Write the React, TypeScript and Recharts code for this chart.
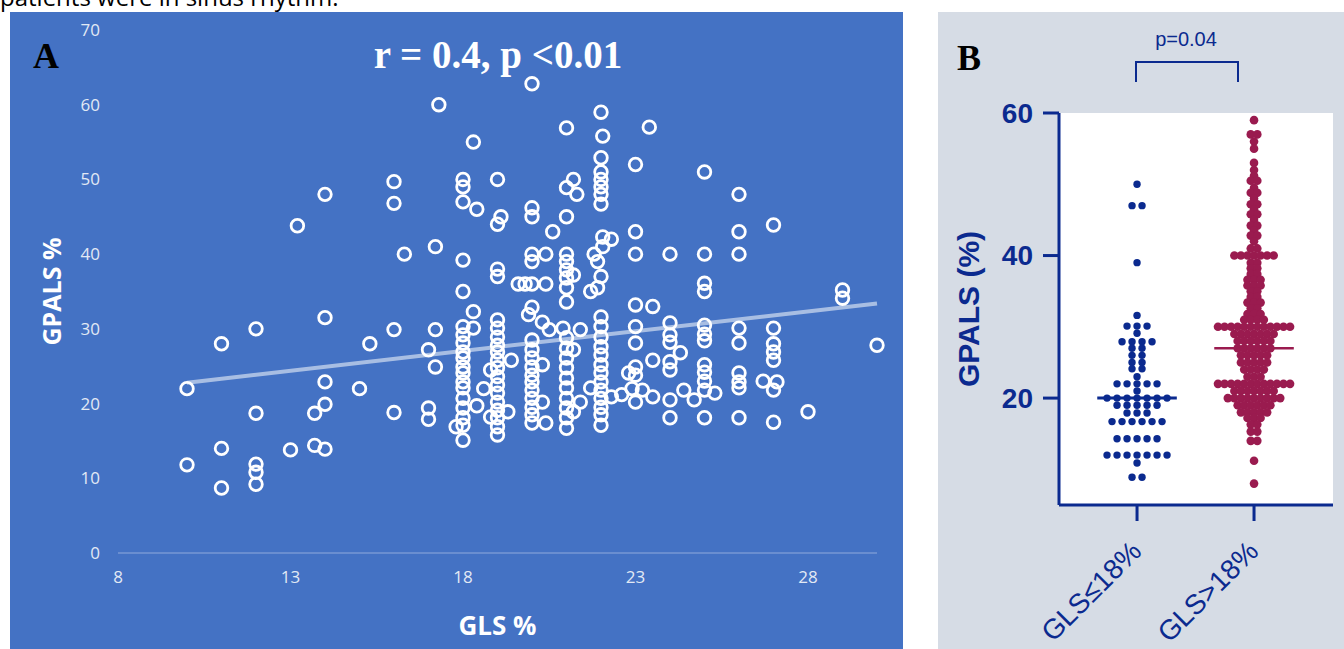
import React from 'react';
import { CartesianGrid, ReferenceLine, Scatter, ScatterChart, XAxis, YAxis } from 'recharts';

// ---- panel A: GLS vs GPALS scatter ----
const glsTicks = [8, 13, 18, 23, 28];
const gpalsTicks = [0, 10, 20, 30, 40, 50, 60, 70];

// [GLS %, GPALS %]
const scatterPoints: [number, number][] = [
  [10, 22], [10, 11.8], [11, 28], [11, 14], [11, 8.7], [12, 30], [12, 18.7], [12, 11.9], [12, 10.8], [12, 9.2],
  [13, 13.8], [13.2, 43.8], [13.7, 14.4], [13.7, 18.7], [14, 48], [14, 31.5], [14, 22.9], [14, 19.9], [14, 13.9],
  [15, 22], [15.3, 28], [16, 49.7], [16, 46.8], [16, 29.9], [16, 18.8], [16.3, 40], [17, 27.2], [17, 19.4], [17, 17.9],
  [17.2, 41], [17.2, 29.9], [17.2, 24.9], [17.3, 60],
  [18, 50], [18, 49], [18, 47], [18, 39.2], [18, 35], [18, 30.3], [18, 29.2], [18, 28.1], [18, 26.9], [18, 26.1],
  [18, 24.9], [18, 24.1], [18, 22.9], [18, 22.1], [18, 20.7], [18, 19.4], [18, 18.1], [18, 17.1], [18, 15.1],
  [17.8, 16.9], [18.3, 55], [18.4, 46], [18.3, 32.3], [18.3, 30.1], [18.6, 22], [18.4, 19.7],
  [19, 50], [19.1, 45], [19, 44], [19, 38], [19, 37], [19, 31.2], [19, 30.1], [19, 28.9], [19, 27.8], [19, 26.9],
  [19, 25.8], [19, 24.8], [19, 23.6], [19, 22.5], [19, 21.4], [19, 20.2], [19, 19.1], [19, 18.1], [19, 16.9], [19, 15.8],
  [19.4, 25.8], [18.8, 24.5], [18.8, 18.2], [19.3, 18.9], [19.6, 36], [19.8, 36],
  [20, 62.8], [20, 46.2], [20, 45], [20, 40], [20, 39], [20, 36], [20.4, 36], [20, 32.9], [19.9, 31.9], [20.3, 30.9],
  [20.5, 29.9], [20, 28.5], [20, 27.2], [20, 26.1], [20, 24.9], [20, 23.8], [20, 22.9], [20, 21.8], [20, 20.7],
  [20, 19.5], [20, 18.5], [20, 17.4], [20.3, 25.2], [20.3, 20.2], [20.4, 17.4], [20.4, 40], [20.6, 43],
  [21, 56.9], [21.2, 50], [21, 48.9], [21.3, 48], [21, 45], [21, 40], [21, 39], [21, 37.9], [21.2, 37.2], [21, 36.8],
  [21, 35.5], [21, 33.6], [20.9, 30.1], [21.4, 29.9], [21, 28.8], [21, 27.4], [21, 26.1], [21, 24.8], [21, 23.4],
  [21, 22.1], [21, 20.7], [21, 19.4], [21, 18.1], [21, 16.7], [21.2, 27.2], [21.4, 20.2], [21.2, 18.9],
  [22, 59], [22.05, 55.8], [22, 52.9], [22, 51], [22, 50], [22, 49], [22, 48], [22, 46.7], [22.05, 42.3], [22.05, 41],
  [21.8, 40], [21.9, 39], [22, 37], [21.9, 35.5], [21.7, 35], [22, 31.6], [22, 30.3], [22, 28.9], [22, 27.6],
  [22, 26.5], [22, 25.2], [22, 24.1], [22, 22.9], [22, 21.8], [22, 20.7], [22, 19.5], [22, 18.5], [22, 17.1],
  [21.7, 22.1], [22.3, 42], [22.3, 20.9], [22.6, 21.2], [22.8, 24.1],
  [23.4, 57], [23, 52], [23, 43], [23, 40], [23, 33.2], [23.5, 33], [23, 30.3], [23, 28.1], [23, 24.9], [23, 23.8],
  [23, 20.2], [23.5, 25.8], [23.2, 21.8], [23.5, 20.9], [22.9, 22],
  [24, 40], [24, 30.8], [24, 29.2], [24, 28.2], [24.3, 26.8], [24, 25.6], [24, 24.5], [24.4, 21.8], [24.7, 20.5],
  [24, 20.5], [24, 18.1],
  [25, 51], [25, 40], [25, 36.1], [25, 35], [25, 30.5], [25, 29.3], [25, 28.4], [25, 25.2], [25, 24.2], [25, 23],
  [25, 21.8], [25.3, 21.4], [25, 18.1],
  [26, 48], [26, 43], [26, 40], [26, 30.1], [26, 28.1], [26, 24.1], [26, 22.9], [26, 22.1], [26, 18.1],
  [27, 43.9], [27, 30.1], [27, 28], [27, 26.9], [27, 25.8], [26.7, 23], [27.1, 22.9], [27, 21.8], [27, 17.5],
  [28, 18.9], [29, 35.2], [29, 34.1], [30, 27.8],
];

// regression line end points
const trendLine = [{ x: 10, y: 22.8 }, { x: 30, y: 33.4 }];

// ---- panel B: dot plot by GLS group ----
const groupLabels = ['GLS≤18%', 'GLS>18%'];
const groupMeans = [20, 27];
const panelBTicks = [20, 40, 60];

// [GPALS value, number of patients at that value]
const lowGlsRows: [number, number][] = [
  [50, 1], [47, 2], [39, 1], [31.6, 1], [30.1, 3], [29.1, 1], [27.9, 4], [27, 2], [26, 2], [25, 2], [24.1, 2],
  [23, 1], [22, 5], [21, 1], [20, 7], [19, 5], [17.9, 3], [16.7, 6], [14.3, 5], [12, 7], [10.9, 1], [8.9, 2],
];
const highGlsRows: [number, number][] = [
  [59, 1], [57, 2], [56, 1], [55, 1], [53, 1], [52, 1], [51.2, 1], [50.5, 2], [49.5, 1], [48.8, 2], [48, 1],
  [47.2, 2], [46.5, 1], [45.8, 2], [45, 1], [44.2, 2], [43.5, 1], [42.8, 2], [42, 1], [41, 2], [40, 7], [39, 2],
  [38.2, 2], [37.4, 2], [36.6, 3], [35.8, 3], [35, 2], [34.2, 2], [33.4, 3], [32.6, 2], [31.8, 3], [31, 4],
  [30, 12], [29, 7], [28, 6], [27, 6], [26, 5], [25, 5], [24, 4], [23, 3], [22, 12], [21, 7], [20, 9], [19, 6],
  [18, 5], [17.2, 3], [16.3, 2], [15.3, 2], [14, 2], [11.2, 1], [8, 1],
];

const NAVY = '#0B2A8F';
const MAROON = '#9A1B4F';
const meanHalfWidth = 0.34;

// spread equal values side by side like a prism dot plot
const swarm = (rows: [number, number][], group: number, step: number) =>
  rows.flatMap(([v, n]) =>
    Array.from({ length: n }, (_, i) => ({ x: group + (i - (n - 1) / 2) * step, y: v }))
  );

const pointsA = scatterPoints.map(([x, y]) => ({ x, y }));
const lowPoints = swarm(lowGlsRows, 1, 0.0855);
const highPoints = swarm(highGlsRows, 2, 0.056);

const Ring = (props: any) => (
  <circle cx={props.cx} cy={props.cy} r={6.3} fill="none" stroke="#fff" strokeWidth={2.8} />
);
const dot = (r: number, color: string) => (props: any) => (
  <circle cx={props.cx} cy={props.cy} r={r} fill={color} />
);

const GroupTick = (props: any) => {
  const { x, y, payload } = props;
  const tx = x + 6;
  const ty = y + 30;
  return (
    <text x={tx} y={ty} transform={`rotate(-45, ${tx}, ${ty})`} textAnchor="end" fill={NAVY}
      fontSize={28} fontFamily="'Liberation Sans', Arial, sans-serif">
      {groupLabels[payload.value - 1]}
    </text>
  );
};

const fontA = "'Open Sans', sans-serif";
const fontB = "'Liberation Sans', Arial, sans-serif";

export default function App() {
  return (
    <div style={{ position: 'absolute', left: 0, top: 0, width: 1344, height: 649, overflow: 'hidden', background: '#fff' }}>
      <div style={{ position: 'absolute', left: 10, top: 12, width: 893, height: 637, background: '#4472C4' }}>
        <ScatterChart width={893} height={637} margin={{ top: 18, right: 26, bottom: 0, left: 28 }}>
          <XAxis type="number" dataKey="x" domain={[8, 30]} ticks={glsTicks} height={96}
            tickLine={false} axisLine={{ stroke: '#8FAADC', strokeWidth: 1.2 }} tickMargin={12}
            tick={{ fill: '#E2E9F5', fontSize: 17, fontFamily: fontA }}
            label={{ value: 'GLS %', position: 'insideBottom', offset: 14, fill: '#fff', fontSize: 26, fontWeight: 700, fontFamily: fontA }} />
          <YAxis type="number" dataKey="y" domain={[0, 70]} ticks={gpalsTicks} width={80}
            axisLine={false} tickLine={false} tickMargin={12}
            tick={{ fill: '#E2E9F5', fontSize: 17, fontFamily: fontA }}
            label={{ value: 'GPALS %', angle: -90, position: 'insideLeft', offset: 14, fill: '#fff', fontSize: 25, fontWeight: 700, fontFamily: fontA, style: { textAnchor: 'middle' } }} />
          <Scatter data={pointsA} shape={Ring} isAnimationActive={false} />
          <ReferenceLine segment={trendLine} stroke="#B4C7E7" strokeWidth={4} strokeOpacity={0.9} ifOverflow="visible" />
        </ScatterChart>
      </div>

      <div style={{ position: 'absolute', left: 938, top: 12, width: 406, height: 637, background: '#D6DCE5' }}>
        <ScatterChart width={406} height={637} margin={{ top: 101, right: 11, bottom: 0, left: 10 }}>
          <CartesianGrid horizontal={false} vertical={false} fill="#fff" />
          <XAxis type="number" dataKey="x" domain={[0.333, 2.675]} ticks={[1, 2]} height={144}
            axisLine={{ stroke: NAVY, strokeWidth: 3 }} tickLine={{ stroke: NAVY, strokeWidth: 3 }} tickSize={16}
            tick={<GroupTick />} />
          <YAxis type="number" dataKey="y" domain={[5, 60]} ticks={panelBTicks} width={111}
            axisLine={{ stroke: NAVY, strokeWidth: 3 }} tickLine={{ stroke: NAVY, strokeWidth: 3 }} tickSize={16} tickMargin={10}
            tick={{ fill: NAVY, fontSize: 28, fontWeight: 700, fontFamily: fontB }}
            label={{ value: 'GPALS (%)', angle: -90, position: 'insideLeft', offset: 20, fill: NAVY, fontSize: 30, fontWeight: 700, fontFamily: fontB, style: { textAnchor: 'middle' } }} />
          <Scatter data={lowPoints} shape={dot(3.7, NAVY)} isAnimationActive={false} />
          <Scatter data={highPoints} shape={dot(4.3, MAROON)} isAnimationActive={false} />
          {groupMeans.map((m, i) => (
            <ReferenceLine key={i} segment={[{ x: i + 1 - meanHalfWidth, y: m }, { x: i + 1 + meanHalfWidth, y: m }]}
              stroke={i === 0 ? NAVY : MAROON} strokeWidth={i === 0 ? 3 : 2.5} />
          ))}
        </ScatterChart>
      </div>

      <svg width={1344} height={649} style={{ position: 'absolute', left: 0, top: 0, pointerEvents: 'none' }}>
        <text x={0} y={6} fontSize={24} fontFamily={fontA} fill="#000">patients were in sinus rhythm.</text>
        <text x={33} y={68} fontSize={36} fontWeight={700} fontFamily="'Liberation Serif', serif" fill="#000">A</text>
        <text x={498} y={68} textAnchor="middle" fontSize={39} fontWeight={700} fontFamily="'Liberation Serif', serif" fill="#fff">r = 0.4, p &lt;0.01</text>
        <text x={957} y={70} fontSize={36} fontWeight={700} fontFamily="'Liberation Serif', serif" fill="#000">B</text>
        <text x={1186} y={46} textAnchor="middle" fontSize={20} fontFamily={fontB} fill={NAVY}>p=0.04</text>
        <path d="M1136,82 V62 H1238 V82" fill="none" stroke={NAVY} strokeWidth={2} />
      </svg>
    </div>
  );
}
